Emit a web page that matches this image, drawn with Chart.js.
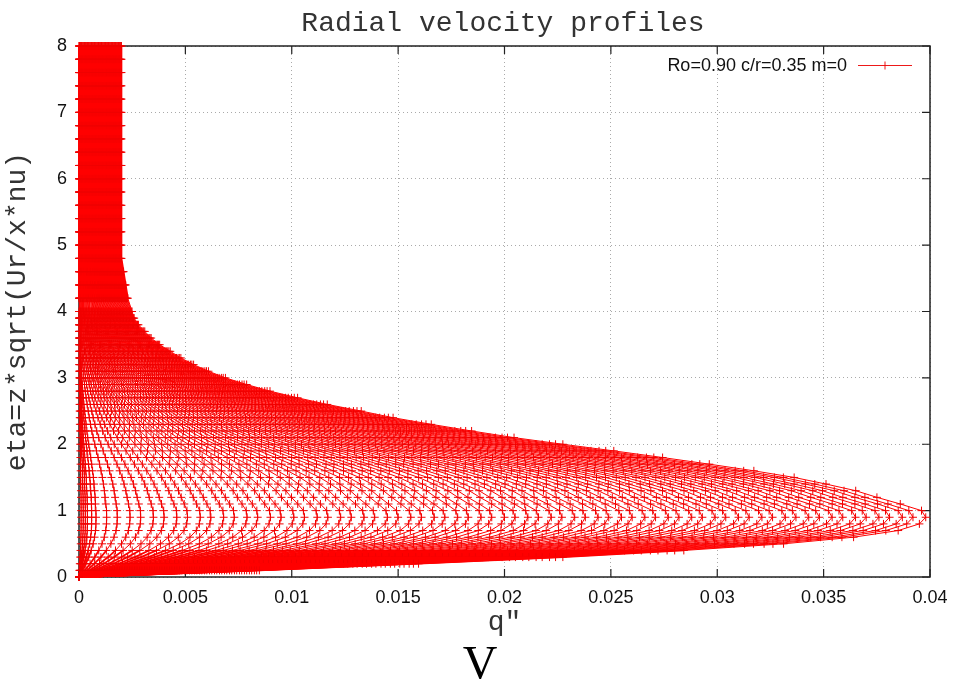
<!DOCTYPE html>
<html><head><meta charset="utf-8">
<script src="https://cdn.jsdelivr.net/npm/chart.js@4.4.1/dist/chart.umd.min.js"></script>
<style>
html,body{margin:0;padding:0;background:#fff;}
#wrap{position:relative;width:958px;height:679px;overflow:hidden;}
#c{position:absolute;left:0;top:0;}
.t{position:absolute;white-space:nowrap;}
#title{left:253px;width:500px;top:10px;text-align:center;font:28px/28px 'Liberation Mono',monospace;color:#333;}
#leg{right:111px;top:54px;font:18px/22px 'Liberation Sans',Arial,sans-serif;color:#111;}
#cap{left:380px;width:200px;top:639px;text-align:center;font:48px/48px 'Liberation Serif','Times New Roman',serif;color:#000;}
</style></head>
<body><div id="wrap">
<canvas id="c" width="958" height="679"></canvas>
<div class="t" id="title">Radial velocity profiles</div>
<div class="t" id="leg">Ro=0.90 c/r=0.35 m=0</div>
<div class="t" id="cap">V</div>
</div>
<script>
// similarity coordinate of each profile point
const etaGrid = [0,0.1,0.2,0.3,0.4,0.5,0.6,0.7,0.8,0.9,1.0,1.1,1.2,1.3,1.4,1.5,1.6,1.7,1.8,1.9,
  2.0,2.1,2.2,2.3,2.4,2.5,2.6,2.7,2.8,2.9,3.0,3.1,3.2,3.3,3.4,3.5,3.6,3.7,3.8,3.9,4.0,
  4.2,4.4,4.6,4.8,5.0,5.2,5.4,5.6,5.8,6.0,6.2,6.4,6.6,6.8,7.0,7.2,7.4,7.6,7.8,8.0];
// outermost (largest) profile q"
const outerProfile = [0,0.0085,0.0160,0.0228,0.0285,0.0332,0.0365,0.0386,0.0396,0.0399,0.0397,0.0387,0.0376,0.0366,0.0352,0.0337,0.0318,0.0297,0.0275,0.0252,
  0.0228,0.0205,0.0185,0.0166,0.0148,0.0133,0.0117,0.0103,0.0090,0.0079,0.0069,0.0061,0.0054,0.0048,0.0043,0.0038,0.0034,0.0031,0.0028,0.0026,0.0025,
  0.0023,0.0022,0.0021,0.0020,0.0020,0.0020,0.0020,0.0020,0.0020,0.0020,0.0020,0.0020,0.0020,0.0020,0.0020,0.0020,0.0020,0.0020,0.0020,0.0020];
// peak q" of each plotted profile (chevron tips near eta = 1)
const profilePeaks = [0.0398,0.0392,0.0387,0.0381,0.0376,0.0370,0.0365,0.0359,0.0354,0.0348,0.0343,0.0337,0.0332,0.0326,0.0321,0.0315,0.0310,0.0304,0.0299,0.0293,
  0.0288,0.0282,0.0277,0.0271,0.0266,0.0260,0.0255,0.0249,0.0244,0.0238,0.0233,0.0227,0.0222,0.0216,0.0211,0.0205,0.0200,0.0194,0.0189,0.0183,
  0.0178,0.0172,0.0167,0.0161,0.0156,0.0150,0.0145,0.0139,0.0134,0.0128,0.0123,0.0117,0.0112,0.0106,0.0101,0.0095,0.0090,0.0084,0.0079,0.0073,
  0.0068,0.0062,0.0057,0.0051,0.0046,0.0040,0.0035,0.0029,0.0024,0.0018,0.0013,0.0008,0.0006,0.0004,0.0003,0.0002,0.0001];
const xTickValues = [0,0.005,0.01,0.015,0.02,0.025,0.03,0.035,0.04];
const xTickLabels = ['0','0.005','0.01','0.015','0.02','0.025','0.03','0.035','0.04'];
const yTickValues = [0,1,2,3,4,5,6,7,8];
const yTickLabels = ['0','1','2','3','4','5','6','7','8'];
const seriesLabel = 'Ro=0.90 c/r=0.35 m=0';

const outerPeak = Math.max(...outerProfile);
const datasets = profilePeaks.map(p => ({
  label: seriesLabel,
  data: etaGrid.map((e, i) => ({x: outerProfile[i] * p / outerPeak, y: e})),
  showLine: true,
  borderColor: 'rgb(255,0,0)',
  borderWidth: 1,
  segment: {
    // dense overlapping strokes render as a solid band near the wall and in the outer tail
    borderWidth: ctx => (ctx.p0.parsed.y >= 4.2 || ctx.p1.parsed.y <= 0.4) ? 1.8 : 1
  },
  pointStyle: 'cross',
  pointRadius: 4,
  pointBorderColor: 'rgb(240,0,0)',
  pointBorderWidth: 1,
  clip: 4
}));

const tickFont = {family: "'Liberation Sans', Arial, sans-serif", size: 18};
const titleFont = {family: "'Liberation Mono', monospace", size: 28};

const frame = {
  id: 'frame',
  beforeDatasetsDraw(chart) {
    const {ctx, chartArea: a, scales: {x, y}} = chart;
    ctx.save();
    ctx.strokeStyle = '#222';
    ctx.lineWidth = 1.5;
    ctx.strokeRect(a.left, a.top, a.right - a.left, a.bottom - a.top);
    ctx.lineWidth = 1.2;
    ctx.beginPath();
    xTickValues.forEach(v => { const px = x.getPixelForValue(v);
      ctx.moveTo(px, a.bottom); ctx.lineTo(px, a.bottom - 8);
      ctx.moveTo(px, a.top); ctx.lineTo(px, a.top + 8); });
    yTickValues.forEach(v => { const py = y.getPixelForValue(v);
      ctx.moveTo(a.left, py); ctx.lineTo(a.left + 8, py);
      ctx.moveTo(a.right, py); ctx.lineTo(a.right - 8, py); });
    ctx.stroke();
    ctx.restore();
  },
  afterDraw(chart) {
    const ctx = chart.ctx;
    ctx.save();
    ctx.strokeStyle = 'rgba(235,0,0,0.9)';
    ctx.lineWidth = 1;
    ctx.beginPath();
    ctx.moveTo(858, 65.5); ctx.lineTo(912, 65.5);
    ctx.moveTo(885, 61.5); ctx.lineTo(885, 69.5);
    ctx.stroke();
    ctx.restore();
  }
};

new Chart(document.getElementById('c'), {
  type: 'scatter',
  data: {datasets},
  options: {
    responsive: false,
    animation: false,
    events: [],
    layout: {padding: {left: 0, top: 46, right: 28, bottom: 40}},
    plugins: {legend: {display: false}, tooltip: {enabled: false}, title: {display: false}},
    scales: {
      x: {
        type: 'linear', min: 0, max: 0.04,
        afterBuildTicks: s => { s.ticks = xTickValues.map(v => ({value: v})); },
        afterFit: s => { s.height = 62; },
        ticks: {callback: (v, i) => xTickLabels[i], font: tickFont, color: '#111', padding: 10, maxRotation: 0, autoSkip: false},
        grid: {color: '#aaa', lineWidth: 1, drawTicks: false},
        border: {display: false, dash: [1, 3]},
        title: {display: true, text: 'q"', font: titleFont, color: '#333', padding: {top: 0, bottom: 0}}
      },
      y: {
        type: 'linear', min: 0, max: 8,
        afterBuildTicks: s => { s.ticks = yTickValues.map(v => ({value: v})); },
        afterFit: s => { s.width = 79; },
        ticks: {callback: (v, i) => yTickLabels[i], font: tickFont, color: '#111', padding: 12, autoSkip: false},
        grid: {color: '#aaa', lineWidth: 1, drawTicks: false},
        border: {display: false, dash: [1, 3]},
        title: {display: true, text: 'eta=z*sqrt(Ur/x*nu)', font: titleFont, color: '#333', padding: {top: 1, bottom: 0}}
      }
    }
  },
  plugins: [frame]
});
</script>
</body></html>
